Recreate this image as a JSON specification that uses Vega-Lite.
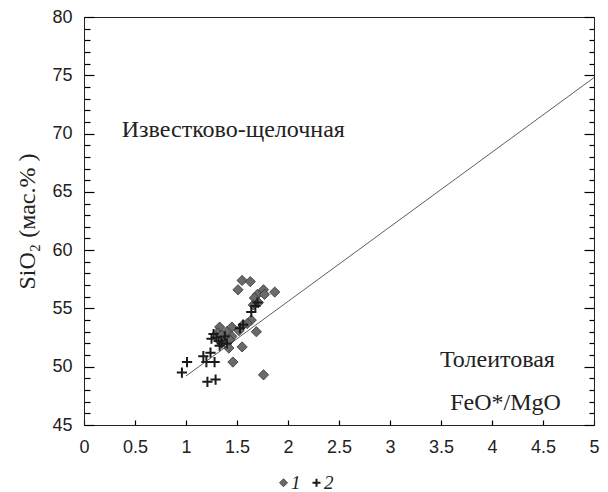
{
  "$schema": "https://vega.github.io/schema/vega-lite/v6.json",
  "width": 510,
  "height": 408,
  "autosize": {"type": "none"},
  "padding": {"left": 84, "top": 17, "right": 14, "bottom": 67},
  "config": {
    "view": {"stroke": "#222", "strokeWidth": 1},
    "axis": {"grid": false, "domainColor": "#222", "tickColor": "#000", "tickWidth": 1.2, "labelFont": "Liberation Sans", "labelFontSize": 18, "labelColor": "#222", "labelOverlap": false, "labelBound": false, "labelFlush": false}
  },
  "datasets": {
    "points": [
      {"ratio": 1.55, "sio2": 57.4, "series": "1"},
      {"ratio": 1.63, "sio2": 57.3, "series": "1"},
      {"ratio": 1.51, "sio2": 56.6, "series": "1"},
      {"ratio": 1.76, "sio2": 56.6, "series": "1"},
      {"ratio": 1.87, "sio2": 56.4, "series": "1"},
      {"ratio": 1.70, "sio2": 56.2, "series": "1"},
      {"ratio": 1.77, "sio2": 56.2, "series": "1"},
      {"ratio": 1.67, "sio2": 55.9, "series": "1"},
      {"ratio": 1.71, "sio2": 55.5, "series": "1"},
      {"ratio": 1.66, "sio2": 55.3, "series": "1"},
      {"ratio": 1.64, "sio2": 54.0, "series": "1"},
      {"ratio": 1.60, "sio2": 53.7, "series": "1"},
      {"ratio": 1.56, "sio2": 53.6, "series": "1"},
      {"ratio": 1.45, "sio2": 53.4, "series": "1"},
      {"ratio": 1.33, "sio2": 53.4, "series": "1"},
      {"ratio": 1.69, "sio2": 53.0, "series": "1"},
      {"ratio": 1.40, "sio2": 53.0, "series": "1"},
      {"ratio": 1.31, "sio2": 52.9, "series": "1"},
      {"ratio": 1.45, "sio2": 52.6, "series": "1"},
      {"ratio": 1.37, "sio2": 52.2, "series": "1"},
      {"ratio": 1.43, "sio2": 52.3, "series": "1"},
      {"ratio": 1.55, "sio2": 51.7, "series": "1"},
      {"ratio": 1.42, "sio2": 51.6, "series": "1"},
      {"ratio": 1.46, "sio2": 50.4, "series": "1"},
      {"ratio": 1.76, "sio2": 49.3, "series": "1"},
      {"ratio": 1.52, "sio2": 53.1, "series": "1"},
      {"ratio": 1.35, "sio2": 52.7, "series": "1"},
      {"ratio": 0.96, "sio2": 49.5, "series": "2"},
      {"ratio": 1.01, "sio2": 50.4, "series": "2"},
      {"ratio": 1.17, "sio2": 50.9, "series": "2"},
      {"ratio": 1.24, "sio2": 51.2, "series": "2"},
      {"ratio": 1.20, "sio2": 50.4, "series": "2"},
      {"ratio": 1.28, "sio2": 50.4, "series": "2"},
      {"ratio": 1.21, "sio2": 48.7, "series": "2"},
      {"ratio": 1.29, "sio2": 48.9, "series": "2"},
      {"ratio": 1.25, "sio2": 52.4, "series": "2"},
      {"ratio": 1.30, "sio2": 52.5, "series": "2"},
      {"ratio": 1.32, "sio2": 52.2, "series": "2"},
      {"ratio": 1.35, "sio2": 52.0, "series": "2"},
      {"ratio": 1.38, "sio2": 52.6, "series": "2"},
      {"ratio": 1.40, "sio2": 52.0, "series": "2"},
      {"ratio": 1.53, "sio2": 53.3, "series": "2"},
      {"ratio": 1.56, "sio2": 53.6, "series": "2"},
      {"ratio": 1.64, "sio2": 54.7, "series": "2"},
      {"ratio": 1.68, "sio2": 55.2, "series": "2"},
      {"ratio": 1.70, "sio2": 55.5, "series": "2"},
      {"ratio": 1.27, "sio2": 52.8, "series": "2"},
      {"ratio": 1.33, "sio2": 51.8, "series": "2"}
    ],
    "divider": [
      {"ratio": 1.0, "sio2": 49.2},
      {"ratio": 5.0, "sio2": 74.8}
    ],
    "labels": [
      {"ratio": 0.37, "sio2": 70.3, "text": "Известково-щелочная"},
      {"ratio": 3.49, "sio2": 50.6, "text": "Толеитовая"},
      {"ratio": 3.59, "sio2": 46.9, "text": "FeO*/MgO"}
    ]
  },
  "layer": [
    {
      "data": {"name": "points"},
      "mark": {"type": "point", "opacity": 1, "size": 105},
      "encoding": {
        "x": {"field": "ratio", "type": "quantitative", "scale": {"domain": [0, 5], "nice": false, "zero": false},
          "axis": {"orient": "bottom", "values": [0, 0.5, 1, 1.5, 2, 2.5, 3, 3.5, 4, 4.5, 5], "format": "~g", "ticks": false, "labelPadding": 13, "title": null}},
        "y": {"field": "sio2", "type": "quantitative", "scale": {"domain": [45, 80], "nice": false, "zero": false},
          "axis": {"orient": "left", "values": [45, 50, 55, 60, 65, 70, 75, 80], "ticks": false,
            "labelPadding": 12,
            "title": "SiO₂ (мас.% )", "titleFont": "Liberation Serif", "titleFontSize": 24, "titleFontWeight": "normal", "titleColor": "#222", "titlePadding": 12}},
        "shape": {"field": "series", "type": "nominal", "scale": {"domain": ["1", "2"], "range": ["diamond", "M-1,0H1M0,-1V1"]},
          "legend": {"orient": "none", "legendX": 190, "legendY": 456, "direction": "horizontal", "title": null, "labelFont": "Liberation Serif", "labelFontStyle": "italic", "labelFontSize": 19, "labelColor": "#222", "symbolSize": 64, "columnPadding": 6, "labelOffset": -2}},
        "fill": {"field": "series", "type": "nominal", "scale": {"domain": ["1", "2"], "range": ["#6a6a6a", "#1a1a1a"]}},
        "stroke": {"field": "series", "type": "nominal", "scale": {"domain": ["1", "2"], "range": ["#333333", "#1a1a1a"]}},
        "strokeWidth": {"field": "series", "type": "nominal", "scale": {"domain": ["1", "2"], "range": [0.8, 2]}}
      }
    },
    {
      "data": {"name": "divider"},
      "mark": {"type": "line", "color": "#333", "strokeWidth": 0.8},
      "encoding": {
        "x": {"field": "ratio", "type": "quantitative", "scale": {"domain": [0, 5], "nice": false, "zero": false},
          "axis": {"orient": "top", "offset": -408, "values": [0, 0.5, 1, 1.5, 2, 2.5, 3, 3.5, 4, 4.5, 5], "tickSize": 5, "labels": false, "domain": true, "title": null}},
        "y": {"field": "sio2", "type": "quantitative", "scale": {"domain": [45, 80], "nice": false, "zero": false},
          "axis": {"orient": "right", "offset": -510, "values": [45,46,47,48,49,50,51,52,53,54,55,56,57,58,59,60,61,62,63,64,65,66,67,68,69,70,71,72,73,74,75,76,77,78,79,80],
            "tickSize": {"condition": {"test": "datum.value % 5 === 0", "value": 10}, "value": 6},
            "labels": false, "domain": true, "title": null}}
      }
    },
    {
      "data": {"name": "labels"},
      "mark": {"type": "text", "align": "left", "baseline": "middle", "font": "Liberation Serif", "fontSize": 24, "color": "#222"},
      "encoding": {
        "x": {"field": "ratio", "type": "quantitative", "scale": {"domain": [0, 5], "nice": false, "zero": false}, "axis": null},
        "y": {"field": "sio2", "type": "quantitative", "scale": {"domain": [45, 80], "nice": false, "zero": false},
          "axis": {"orient": "left", "offset": -510, "values": [45,46,47,48,49,50,51,52,53,54,55,56,57,58,59,60,61,62,63,64,65,66,67,68,69,70,71,72,73,74,75,76,77,78,79,80],
            "tickSize": {"condition": {"test": "datum.value % 5 === 0", "value": 10}, "value": 5},
            "labels": false, "domain": true, "title": null}},
        "text": {"field": "text", "type": "nominal"}
      }
    }
  ],
  "resolve": {"axis": {"x": "independent", "y": "independent"}}
}
